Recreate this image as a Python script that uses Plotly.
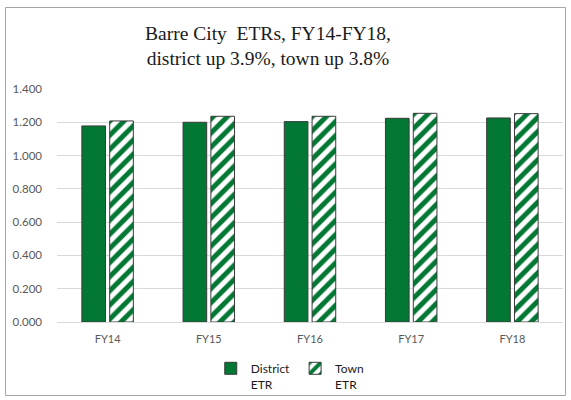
import plotly.graph_objects as go

categories = ["FY14", "FY15", "FY16", "FY17", "FY18"]
district_etr = [1.178, 1.200, 1.204, 1.224, 1.226]
town_etr = [1.208, 1.236, 1.236, 1.254, 1.252]
y_ticks = [0.0, 0.2, 0.4, 0.6, 0.8, 1.0, 1.2, 1.4]

GREEN = "#037835"
W, H = 571, 400
ML, MR, MT, MB = 57, 8, 89, 78

fig = go.Figure()
fig.add_trace(go.Bar(
    x=categories, y=district_etr, name="District<br>ETR",
    marker=dict(color=GREEN, line=dict(color="#3a3a3a", width=1)),
))
fig.add_trace(go.Bar(
    x=categories, y=town_etr, name="Town<br>ETR",
    marker=dict(color="white", line=dict(color="#3a3a3a", width=1),
                pattern=dict(shape="/", fgcolor=GREEN, bgcolor="white",
                             fgopacity=1, size=10, solidity=0.5,
                             fillmode="replace")),
))

pw = W - ML - MR
ph = H - MT - MB
def px_x(px):
    return (px - ML) / pw
def px_y(py):
    return (H - MB - py) / ph

fig.add_shape(type="rect", xref="paper", yref="paper",
              x0=px_x(5.5), x1=px_x(565.5), y0=px_y(395.5), y1=px_y(7.5),
              line=dict(color="#a6a6a6", width=1), fillcolor="rgba(0,0,0,0)",
              layer="below")

fig.update_layout(
    width=W, height=H,
    margin=dict(l=ML, r=MR, t=MT, b=MB, autoexpand=False),
    paper_bgcolor="white", plot_bgcolor="white",
    barmode="group", bargap=0.45, bargroupgap=0.15,
    title=dict(
        text="Barre City  ETRs, FY14-FY18,<br>district up 3.9%, town up 3.8%",
        x=268 / W, xref="container", xanchor="center",
        y=1 - 40 / H, yref="container", yanchor="top",
        font=dict(family="Liberation Serif, serif", size=19.5, color="#1a1a1a"),
    ),
    yaxis=dict(
        range=[0, 1.4], tickvals=y_ticks, tickformat=".3f",
        showgrid=True, gridcolor="#d9d9d9", gridwidth=1,
        zeroline=True, zerolinecolor="#d9d9d9", zerolinewidth=1,
        showline=False, ticks="", automargin=False,
        tickfont=dict(family="Lato, sans-serif", size=11.5, color="#595959"),
        ticklabelstandoff=14,
    ),
    xaxis=dict(
        showline=True, linecolor="#d9d9d9", ticks="", automargin=False,
        tickfont=dict(family="Lato, sans-serif", size=11, color="#595959"),
        ticklabelstandoff=7,
    ),
    legend=dict(
        orientation="h", x=0.46, xanchor="center",
        yref="container", y=1 - 354 / H, yanchor="top",
        font=dict(family="Lato, sans-serif", size=12, color="#1a1a1a"),
        valign="top", itemwidth=30, bgcolor="rgba(0,0,0,0)",
    ),
    showlegend=True,
)

fig.write_html(
    "out.html",
    config={"displayModeBar": False},
    post_script="document.body.style.margin='0px';document.body.style.overflow='hidden';",
)
